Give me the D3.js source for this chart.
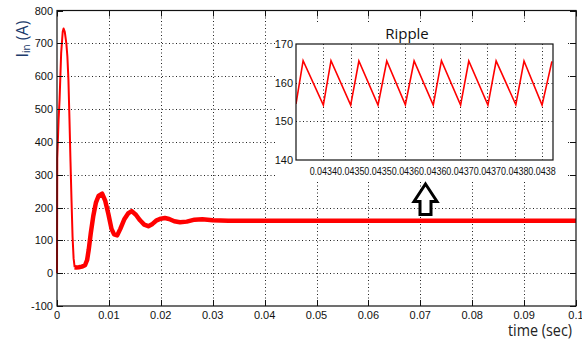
<!DOCTYPE html>
<html>
<head>
<meta charset="utf-8">
<script src="https://cdn.jsdelivr.net/npm/d3@7"></script>
<style>
  body { margin: 0; background: #fff; }
  svg { display: block; }
  .tick-lbl { font-family: "Liberation Sans Narrow", "Liberation Sans", Arial, sans-serif; font-size: 11px; fill: #111; }
</style>
</head>
<body>
<svg width="582" height="344"></svg>
<script>
// main trace, inrush current I_in vs time
var tMain = [0, 0.00005, 0.0003, 0.0005, 0.0008, 0.0011, 0.00127, 0.0015, 0.0018, 0.0020, 0.0022, 0.0024,
  0.0026, 0.0028, 0.0030, 0.0032, 0.0034, 0.0037, 0.0042, 0.0048, 0.0054, 0.0058, 0.0061, 0.0065, 0.0070,
  0.0075, 0.0080, 0.0087, 0.0093, 0.0099, 0.0105, 0.0110, 0.0116, 0.0122, 0.0130, 0.0137, 0.0144, 0.0152,
  0.0160, 0.0168, 0.0176, 0.0184, 0.0192, 0.0200, 0.0208, 0.0216, 0.0226, 0.0237, 0.0250, 0.0265, 0.0280,
  0.0300, 0.0330, 0.0400, 0.0600, 0.0800, 0.1000];
var iMain = [0, 350, 465, 530, 670, 735, 745, 735, 700, 660, 590, 470,
  340, 220, 110, 45, 18, 17, 18, 20, 24, 40, 70, 121, 175,
  215, 235, 242, 220, 180, 135, 118, 115, 135, 165, 182, 189, 178,
  161, 148, 143, 150, 161, 166, 168, 165, 158, 155, 157, 163, 164,
  161, 160, 160, 160, 160, 160];

// zoomed ripple window
var rippleT = [0.04335, 0.043363, 0.043400, 0.043414, 0.043450, 0.043465, 0.043500, 0.043516, 0.043550, 0.043566,
  0.043601, 0.043616, 0.043651, 0.043666, 0.043701, 0.043716, 0.043752, 0.043767, 0.043800, 0.043818];
var rippleI = [154.5, 165.7, 154.2, 165.7, 154.2, 165.6, 154.2, 165.6, 154.3, 165.6,
  154.2, 165.7, 154.2, 165.6, 154.2, 165.6, 154.3, 165.6, 154.2, 165.5];

var xTicks = [0, 0.01, 0.02, 0.03, 0.04, 0.05, 0.06, 0.07, 0.08, 0.09, 0.1];
var xTickLabels = ["0", "0.01", "0.02", "0.03", "0.04", "0.05", "0.06", "0.07", "0.08", "0.09", "0.1"];
var yTicks = [-100, 0, 100, 200, 300, 400, 500, 600, 700, 800];
var insetXTicks = [0.04340, 0.04345, 0.04350, 0.04355, 0.04360, 0.04365, 0.04370, 0.04375, 0.04380];
var insetXLabels = ["0.0434", "0.0435", "0.0435", "0.0436", "0.0436", "0.0437", "0.0437", "0.0438", "0.0438"];
var insetYTicks = [140, 150, 160, 170];

var svg = d3.select("svg");

var x = d3.scaleLinear().domain([0, 0.1]).range([57, 576]);
var y = d3.scaleLinear().domain([-100, 800]).range([306, 10.5]);

var xi = d3.scaleLinear().domain([0.04335, 0.04382]).range([296, 553]);
var yi = d3.scaleLinear().domain([140, 170]).range([160, 44]);

var dots = "1,2.5";

// main grid
var grid = svg.append("g").attr("stroke", "#222").attr("stroke-width", 1).attr("stroke-dasharray", dots);
grid.selectAll(".gx").data(xTicks.slice(1, -1)).enter().append("line")
  .attr("x1", function(d) { return Math.round(x(d)) + 0.5; })
  .attr("x2", function(d) { return Math.round(x(d)) + 0.5; })
  .attr("y1", y(800)).attr("y2", y(-100));
grid.selectAll(".gy").data(yTicks.slice(1, -1)).enter().append("line")
  .attr("y1", function(d) { return Math.round(y(d)) + 0.5; })
  .attr("y2", function(d) { return Math.round(y(d)) + 0.5; })
  .attr("x1", x(0)).attr("x2", x(0.1));

// main curve: thin during the inrush spike, thick (ripple band) after
var line = d3.line()
  .x(function(d) { return x(d[0]); })
  .y(function(d) { return y(d[1]); });
var pts = tMain.map(function(t, i) { return [t, iMain[i]]; });

svg.append("path").datum(pts.filter(function(d) { return d[0] <= 0.0034; }))
  .attr("d", line).attr("fill", "none").attr("stroke", "#ff0000").attr("stroke-width", 2)
  .attr("stroke-linejoin", "round");
svg.append("path").datum(pts.filter(function(d) { return d[0] >= 0.0034; }))
  .attr("d", line).attr("fill", "none").attr("stroke", "#ff0000").attr("stroke-width", 4.5)
  .attr("stroke-linejoin", "round");

// frame + ticks
svg.append("rect").attr("x", x(0)).attr("y", y(800))
  .attr("width", x(0.1) - x(0)).attr("height", y(-100) - y(800))
  .attr("fill", "none").attr("stroke", "#111").attr("stroke-width", 1.2);

var tk = svg.append("g").attr("stroke", "#111").attr("stroke-width", 1);
xTicks.forEach(function(d) {
  var px = Math.round(x(d)) + 0.5;
  tk.append("line").attr("x1", px).attr("x2", px).attr("y1", y(-100)).attr("y2", y(-100) - 6);
  tk.append("line").attr("x1", px).attr("x2", px).attr("y1", y(800)).attr("y2", y(800) + 6);
});
yTicks.forEach(function(d) {
  var py = Math.round(y(d)) + 0.5;
  tk.append("line").attr("y1", py).attr("y2", py).attr("x1", x(0)).attr("x2", x(0) + 6);
  tk.append("line").attr("y1", py).attr("y2", py).attr("x1", x(0.1)).attr("x2", x(0.1) - 6);
});

svg.selectAll(".xl").data(xTicks).enter().append("text")
  .attr("class", "tick-lbl")
  .attr("x", function(d) { return x(d); })
  .attr("y", 319)
  .attr("text-anchor", "middle")
  .text(function(d, i) { return xTickLabels[i]; });

svg.selectAll(".yl").data(yTicks).enter().append("text")
  .attr("class", "tick-lbl")
  .attr("x", 53)
  .attr("y", function(d) { return y(d) + 4; })
  .attr("text-anchor", "end")
  .text(function(d) { return d; });

// axis titles
var yl = svg.append("text")
  .attr("transform", "translate(28,39) rotate(-90)")
  .attr("text-anchor", "middle")
  .attr("font-family", "'Open Sans', 'Noto Sans', sans-serif")
  .attr("font-size", 16)
  .attr("fill", "#203a6b");
yl.append("tspan").text("I");
yl.append("tspan").attr("font-size", 10).attr("dy", 2).text("in");
yl.append("tspan").attr("dy", -2).text(" (A)");

svg.append("text")
  .attr("x", 508).attr("y", 336)
  .attr("font-family", "'Open Sans', 'Noto Sans', sans-serif")
  .attr("font-size", 17)
  .attr("textLength", 64).attr("lengthAdjust", "spacingAndGlyphs")
  .attr("fill", "#222")
  .text("time (sec)");

// inset
var inset = svg.append("g");
inset.append("rect").attr("x", 276).attr("y", 22).attr("width", 290).attr("height", 158).attr("fill", "#fff");

var ig = inset.append("g").attr("stroke", "#222").attr("stroke-width", 1).attr("stroke-dasharray", dots);
ig.selectAll("line.v").data(insetXTicks).enter().append("line")
  .attr("x1", function(d) { return Math.round(xi(d)) + 0.5; })
  .attr("x2", function(d) { return Math.round(xi(d)) + 0.5; })
  .attr("y1", yi(170)).attr("y2", yi(140));
ig.selectAll("line.h").data([150, 160]).enter().append("line")
  .attr("y1", function(d) { return Math.round(yi(d)) + 0.5; })
  .attr("y2", function(d) { return Math.round(yi(d)) + 0.5; })
  .attr("x1", xi.range()[0]).attr("x2", xi.range()[1]);

svg.append("clipPath").attr("id", "insetClip").append("rect")
  .attr("x", 296).attr("y", 44).attr("width", 257).attr("height", 116);

var iline = d3.line()
  .x(function(d, i) { return xi(rippleT[i]); })
  .y(function(d) { return yi(d); });
inset.append("path").datum(rippleI)
  .attr("d", iline).attr("clip-path", "url(#insetClip)")
  .attr("fill", "none").attr("stroke", "#ff0000").attr("stroke-width", 1.6)
  .attr("stroke-linejoin", "miter");

inset.append("rect").attr("x", 296).attr("y", 44).attr("width", 257).attr("height", 116)
  .attr("fill", "none").attr("stroke", "#111").attr("stroke-width", 1.2);

inset.selectAll(".ixl").data(insetXTicks).enter().append("text")
  .attr("class", "tick-lbl")
  .attr("x", function(d) { return xi(d); })
  .attr("y", 175)
  .attr("text-anchor", "middle")
  .attr("textLength", 27.4).attr("lengthAdjust", "spacingAndGlyphs")
  .text(function(d, i) { return insetXLabels[i]; });

inset.selectAll(".iyl").data(insetYTicks).enter().append("text")
  .attr("class", "tick-lbl")
  .attr("x", 293)
  .attr("y", function(d) { return yi(d) + 4; })
  .attr("text-anchor", "end")
  .text(function(d) { return d; });

inset.append("text")
  .attr("x", 407).attr("y", 39)
  .attr("text-anchor", "middle")
  .attr("font-family", "'Open Sans', 'Noto Sans', sans-serif")
  .attr("font-size", 15)
  .attr("fill", "#111")
  .text("Ripple");

// pointer arrow
svg.append("path")
  .attr("d", "M425.5,184 L437,201.5 L431,201.5 L431,214.5 L420,214.5 L420,201.5 L414,201.5 Z")
  .attr("fill", "#fff").attr("stroke", "#000").attr("stroke-width", 3)
  .attr("stroke-linejoin", "miter");
</script>
</body>
</html>
